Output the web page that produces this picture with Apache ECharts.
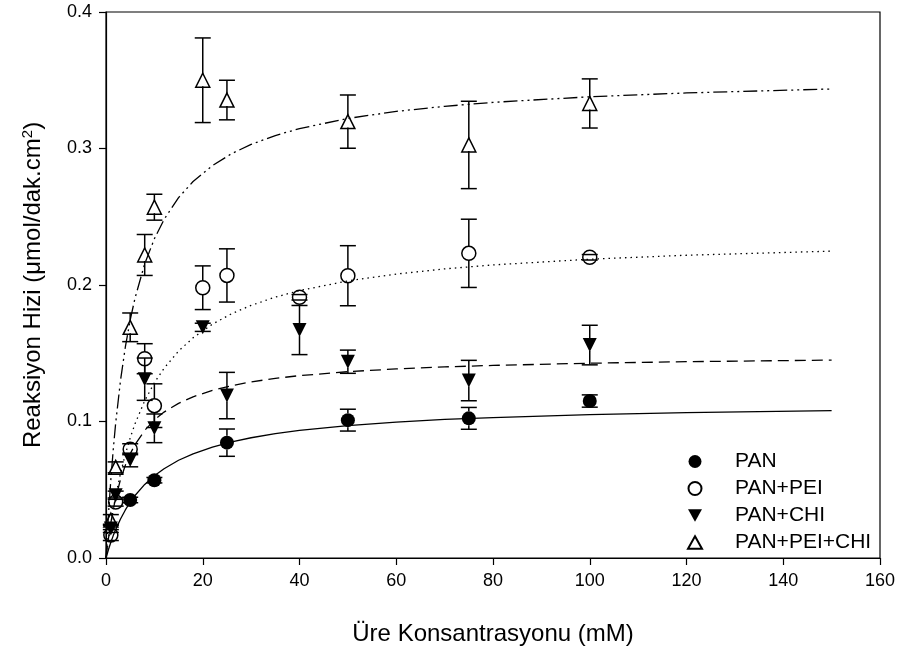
<!DOCTYPE html>
<html>
<head>
<meta charset="utf-8">
<script src="https://cdn.jsdelivr.net/npm/echarts@6/dist/echarts.min.js"></script>
<style>
  html, body { margin: 0; padding: 0; background: #fff; }
  #chart { width: 904px; height: 656px; }
</style>
</head>
<body>
<div id="chart"></div>
<script>
// Axis ticks
const xTicks = [0, 20, 40, 60, 80, 100, 120, 140, 160];
const yTicks = [0.0, 0.1, 0.2, 0.3, 0.4];

// Measured rates (mean and error) per membrane
const panX = [5, 10, 25, 50, 75, 100];
const panY = [0.0425, 0.057, 0.0845, 0.101, 0.1023, 0.115];
const panErr = [0.002, 0.002, 0.010, 0.008, 0.008, 0.0045];

const peiX = [1, 2, 5, 8, 10, 20, 25, 40, 50, 75, 100];
const peiY = [0.0168, 0.041, 0.0797, 0.146, 0.1116, 0.198, 0.207, 0.191, 0.2068, 0.2232, 0.2203];
const peiErr = [0.004, 0.003, 0.004, 0.011, 0.016, 0.016, 0.0195, 0.002, 0.022, 0.025, 0.002];

const chiX = [1, 2, 5, 8, 10, 20, 25, 40, 50, 75, 100];
const chiY = [0.0217, 0.046, 0.0718, 0.131, 0.095, 0.169, 0.119, 0.167, 0.1438, 0.130, 0.156];
const chiErr = [0.003, 0.003, 0.005, 0.0155, 0.0105, 0.003, 0.017, 0.018, 0.0085, 0.0148, 0.0145];

const bothX = [1, 2, 5, 8, 10, 20, 25, 50, 75, 100];
const bothY = [0.0278, 0.0664, 0.169, 0.222, 0.257, 0.350, 0.3355, 0.3197, 0.3026, 0.333];
const bothErr = [0.004, 0.004, 0.0105, 0.015, 0.0095, 0.031, 0.0145, 0.0195, 0.032, 0.018];

// Fitted saturation curves, sampled along the concentration axis
const fitX = [0, 0.5, 1, 1.5, 2, 3, 4, 5, 6, 8, 10, 12, 15, 18, 22, 26, 30, 35, 40, 50, 60, 70, 80, 100, 120, 150];
const panFit = [0, 0.0060, 0.0115, 0.0164, 0.0208, 0.0286, 0.0352, 0.0409, 0.0458, 0.0539, 0.0603, 0.0654, 0.0716, 0.0763, 0.0813, 0.0851, 0.0881, 0.0911, 0.0935, 0.0970, 0.0996, 0.1015, 0.1029, 0.1050, 0.1065, 0.1080];
const peiFit = [0, 0.0132, 0.0250, 0.0356, 0.0452, 0.0620, 0.0760, 0.0880, 0.0983, 0.1152, 0.1284, 0.1390, 0.1516, 0.1613, 0.1713, 0.1790, 0.1851, 0.1911, 0.1959, 0.2030, 0.2080, 0.2118, 0.2147, 0.2189, 0.2218, 0.2248];
const chiFit = [0, 0.0141, 0.0258, 0.0356, 0.0440, 0.0575, 0.0680, 0.0763, 0.0831, 0.0935, 0.1011, 0.1069, 0.1133, 0.1181, 0.1228, 0.1263, 0.1290, 0.1316, 0.1336, 0.1365, 0.1385, 0.1400, 0.1411, 0.1427, 0.1438, 0.1450];
const bothFit = [0, 0.0312, 0.0573, 0.0796, 0.0988, 0.1301, 0.1546, 0.1743, 0.1904, 0.2155, 0.2339, 0.2480, 0.2640, 0.2758, 0.2875, 0.2963, 0.3030, 0.3095, 0.3146, 0.3220, 0.3272, 0.3309, 0.3338, 0.3379, 0.3407, 0.3436];

const names = ['PAN', 'PAN+PEI', 'PAN+CHI', 'PAN+PEI+CHI'];

const FONT = '"Liberation Sans", Arial, Helvetica, sans-serif';
const DOWN_TRI = 'path://M0,0 L10,0 L5,9 Z';
const UP_TRI = 'path://M5,0 L10,9 L0,9 Z';

const zip = (xs, ys) => xs.map((x, i) => [x, ys[i]]);

function fitLine(ys, dash) {
  return {
    type: 'line',
    data: zip(fitX, ys),
    smooth: false,
    showSymbol: false,
    silent: true,
    z: 1,
    lineStyle: { color: '#000', width: 1.3, type: dash }
  };
}

// Vertical error bars with caps; stems stop at the marker outline
function errorBars(xs, ys, es, r) {
  return {
    type: 'custom',
    silent: true,
    z: 2,
    data: xs.map((x, i) => [x, ys[i] - es[i], ys[i] + es[i], ys[i]]),
    renderItem(params, api) {
      const c = api.coord([api.value(0), api.value(3)]);
      const lo = api.coord([api.value(0), api.value(1)]);
      const hi = api.coord([api.value(0), api.value(2)]);
      const cap = 8;
      const style = { stroke: '#000', lineWidth: 1.5 };
      const kids = [];
      if (c[1] - r > hi[1]) {
        kids.push({ type: 'line', shape: { x1: c[0], y1: c[1] - r, x2: c[0], y2: hi[1] }, style });
      }
      if (lo[1] > c[1] + r) {
        kids.push({ type: 'line', shape: { x1: c[0], y1: c[1] + r, x2: c[0], y2: lo[1] }, style });
      }
      kids.push({ type: 'line', shape: { x1: c[0] - cap, y1: hi[1], x2: c[0] + cap, y2: hi[1] }, style });
      kids.push({ type: 'line', shape: { x1: c[0] - cap, y1: lo[1], x2: c[0] + cap, y2: lo[1] }, style });
      return { type: 'group', children: kids };
    }
  };
}

function markers(name, xs, ys, symbol, size, filled) {
  return {
    name,
    type: 'scatter',
    data: zip(xs, ys),
    symbol,
    symbolSize: size,
    z: 3,
    itemStyle: filled
      ? { color: '#000', borderColor: '#000', borderWidth: 0, opacity: 1 }
      : { color: 'rgba(255,255,255,0)', borderColor: '#000', borderWidth: 1.5, opacity: 1 }
  };
}

const chart = echarts.init(document.getElementById('chart'), null, { renderer: 'canvas' });

chart.setOption({
  animation: false,
  backgroundColor: '#fff',
  textStyle: { fontFamily: FONT, color: '#000' },
  grid: {
    left: 106, right: 24, top: 12, bottom: 98,
    show: true, borderColor: '#000', borderWidth: 1.2, backgroundColor: 'transparent'
  },
  xAxis: {
    type: 'value',
    min: xTicks[0], max: xTicks[xTicks.length - 1], interval: xTicks[1] - xTicks[0],
    name: 'Üre Konsantrasyonu (mM)',
    nameLocation: 'middle',
    nameGap: 64,
    nameTextStyle: { fontSize: 24, color: '#000', fontFamily: FONT },
    axisLine: { show: true, lineStyle: { color: '#000', width: 1.2 } },
    axisTick: { show: true, inside: false, length: 7, lineStyle: { color: '#000', width: 1.2 } },
    axisLabel: { fontSize: 18, color: '#000', margin: 14, fontFamily: FONT },
    splitLine: { show: false }
  },
  yAxis: {
    type: 'value',
    min: yTicks[0], max: yTicks[yTicks.length - 1], interval: 0.1,
    name: '{t|Reaksiyon Hizi (μmol/dak.cm}{s|2}{t|)}',
    nameLocation: 'middle',
    nameRotate: 90,
    nameGap: 61,
    nameTextStyle: {
      fontFamily: FONT,
      rich: {
        t: { fontSize: 24, color: '#000', fontFamily: FONT, verticalAlign: 'bottom' },
        s: { fontSize: 15, color: '#000', fontFamily: FONT, verticalAlign: 'top', padding: [0, 0, 10, 0] }
      }
    },
    axisLine: { show: true, lineStyle: { color: '#000', width: 1.2 } },
    axisTick: { show: true, inside: false, length: 7, lineStyle: { color: '#000', width: 1.2 } },
    axisLabel: {
      fontSize: 18, color: '#000', margin: 14, fontFamily: FONT,
      formatter: v => v.toFixed(1)
    },
    splitLine: { show: false }
  },
  legend: {
    data: names,
    orient: 'vertical',
    left: 687,
    top: 451,
    itemWidth: 14,
    itemHeight: 13,
    itemGap: 6,
    padding: 0,
    textStyle: { fontSize: 21, color: '#000', fontFamily: FONT, padding: [0, 0, 0, 28] },
    selectedMode: false
  },
  series: [
    fitLine(panFit, 'solid'),
    fitLine(peiFit, [1.5, 4]),
    fitLine(chiFit, [11, 6]),
    fitLine(bothFit, [14, 4, 2, 4, 2, 4]),
    errorBars(panX, panY, panErr, 7),
    errorBars(peiX, peiY, peiErr, 7),
    errorBars(chiX, chiY, chiErr, 6),
    errorBars(bothX, bothY, bothErr, 6),
    markers(names[0], panX, panY, 'circle', 14, true),
    markers(names[1], peiX, peiY, 'circle', 14, false),
    markers(names[2], chiX, chiY, DOWN_TRI, 14, true),
    markers(names[3], bothX, bothY, UP_TRI, 14, false)
  ]
});
</script>
</body>
</html>
